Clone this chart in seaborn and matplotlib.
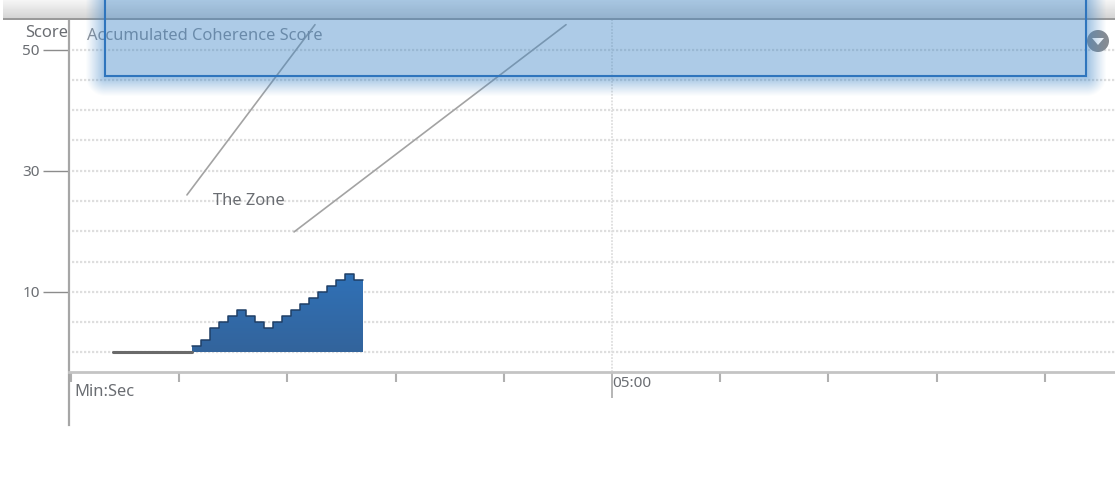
"""Accumulated coherence score chart, with the selection overlay on top"""

import numpy as np
import pandas as pd
import matplotlib.pyplot as plt
import seaborn as sns
from matplotlib.patches import Circle, Polygon, Rectangle

# chart data, time in seconds
idle_times = [23.3, 67]
idle_scores = [0, 0]
step_times = [67, 72, 77, 82, 87, 92, 97, 102, 107, 112, 117, 122, 127, 132, 137, 142, 147, 152, 157, 162]
step_scores = [1, 2, 4, 5, 6, 7, 6, 5, 4, 5, 6, 7, 8, 9, 10, 11, 12, 13, 12, 12]

score_ticks = [10, 30, 50]
score_grid = [0, 5, 10, 15, 20, 25, 30, 35, 40, 45, 50]
minute_ticks = [0, 60, 120, 180, 240, 360, 420, 480, 540]
label_tick = [300]
label_text = ["05:00"]

# the two lines bounding The Zone
zone_low_times = [64.3, 135.3]
zone_low_scores = [26.0, 54.1]
zone_high_times = [123.7, 274.5]
zone_high_scores = [19.9, 54.1]

W, H = 1115, 484
TEXT = "#6a6d72"

sns.set_theme(style="white")
plt.rcParams["font.family"] = ["Noto Sans", "DejaVu Sans"]
plt.rcParams["font.size"] = 11.9

fig = plt.figure(figsize=(W / 100, H / 100), dpi=100, facecolor="white")

# plot area in pixels: x 69 to 1115, y 20 to 372
ax = fig.add_axes([69 / W, 1 - 372 / H, (W - 69) / W, 352 / H])
xlim = (-1.1, 578.9)
ylim = (-3.22, 54.87)

# grid
for s in score_grid:
    ax.axhline(s, xmin=0.003, color="#dedede", lw=1.6, ls=(0, (1.0, 0.8)), zorder=1)
ax.axvline(label_tick[0], color="#dedede", lw=1.3, ls=(0, (1.0, 0.8)), zorder=1)

# gradient fill under the steps
poly = ax.fill_between(step_times, step_scores, 0, step="post", color="#3069ad", lw=0, zorder=2)
gradient = np.linspace(0, 1, 64).reshape(-1, 1)
cmap = sns.blend_palette(["#2f72b9", "#33649c"], as_cmap=True)
im = ax.imshow(gradient, extent=(60, 170, 0, 14), aspect="auto", cmap=cmap, zorder=2.5)
im.set_clip_path(poly.get_paths()[0], transform=ax.transData)

step_df = pd.DataFrame({"time": step_times, "score": step_scores})
idle_df = pd.DataFrame({"time": idle_times, "score": idle_scores})
sns.lineplot(data=step_df, x="time", y="score", ax=ax, estimator=None, color="#1f3f66",
             lw=1.1, drawstyle="steps-post", zorder=3)
sns.lineplot(data=idle_df, x="time", y="score", ax=ax, estimator=None, color="#6a6a6a",
             lw=2.2, zorder=3)

# zone guides
ax.plot(zone_low_times, zone_low_scores, color="#a3a3a3", lw=1.2, zorder=3)
ax.plot(zone_high_times, zone_high_scores, color="#a3a3a3", lw=1.2, zorder=3)
ax.text(78.7, 25, "The Zone", color=TEXT, ha="left", va="center")

ax.set_xlim(xlim)
ax.set_ylim(ylim)
ax.set_xlabel("")
ax.set_ylabel("")

# axes and ticks
ax.set_yticks(score_ticks)
ax.set_xticks(label_tick, label_text, ha="left")
ax.set_xticks(minute_ticks, minor=True)
ax.tick_params(axis="y", length=19, width=1, color="#8c8c8c", pad=2, labelcolor=TEXT, left=True)
ax.tick_params(axis="x", which="major", length=19, width=1.3, color="#b0b0b0", pad=-16,
               labelcolor=TEXT, bottom=True)
ax.tick_params(axis="x", which="minor", length=7.5, width=1.5, color="#b0b0b0", bottom=True)
for side in ["top", "right"]:
    ax.spines[side].set_visible(False)
ax.spines["bottom"].set_color("#c4c4c4")
ax.spines["bottom"].set_linewidth(2)
ax.spines["left"].set_color("#a6a6a6")
ax.spines["left"].set_linewidth(1.6)
ax.spines["left"].set_bounds(-12, ylim[1])

# overlay in pixel coordinates for the window chrome and selection box
top = fig.add_axes([0, 0, 1, 1], facecolor="none")
top.set_xlim(0, W)
top.set_ylim(H, 0)
top.axis("off")

top.text(68, 33, "Score", color=TEXT, ha="right", va="center")
top.text(74, 392, "Min:Sec", color=TEXT, ha="left", va="center")
top.text(87, 36, "Accumulated Coherence Score", color="#8b8f96", ha="left", va="center")

# toolbar strip
strip = np.linspace(0.96, 0.82, 20).reshape(-1, 1)
top.imshow(strip, extent=(3, W, 20, 0), aspect="auto", cmap="gray", vmin=0, vmax=1, zorder=1)
top.add_patch(Rectangle((3, 18), W, 2.2, color="#9a9a9a", lw=0, zorder=1.1))

# filter button
top.add_patch(Circle((1098, 41), 11, color="#878c92", lw=0, zorder=2))
top.add_patch(Polygon([(1092, 38), (1104, 38), (1098, 45)], color="white", lw=0, zorder=2.1))

# soft glow around the selection
yy, xx = np.mgrid[0:H, 0:W]
dx = np.maximum(np.maximum(105 - xx, xx - 1086), 0)
dy = np.maximum(yy - 76, 0)
dist = np.hypot(dx, dy)
glow = np.zeros((H, W, 4))
glow[..., :3] = (0.24, 0.52, 0.78)
glow[..., 3] = 0.5 * np.clip(1 - dist / 20, 0, 1) ** 1.1
glow[dist == 0, 3] = 0
top.imshow(glow, extent=(0, W, H, 0), aspect="auto", zorder=3)

top.add_patch(Rectangle((105, -2), 981, 78, facecolor="#3d85c6", alpha=0.42, lw=0, zorder=4))
top.add_patch(Rectangle((105, -2), 981, 78, facecolor="none", edgecolor="#2f75bd", lw=1.5, zorder=5))
top.set_xlim(0, W)
top.set_ylim(H, 0)

plt.savefig("out.png", dpi=100)
plt.close()
